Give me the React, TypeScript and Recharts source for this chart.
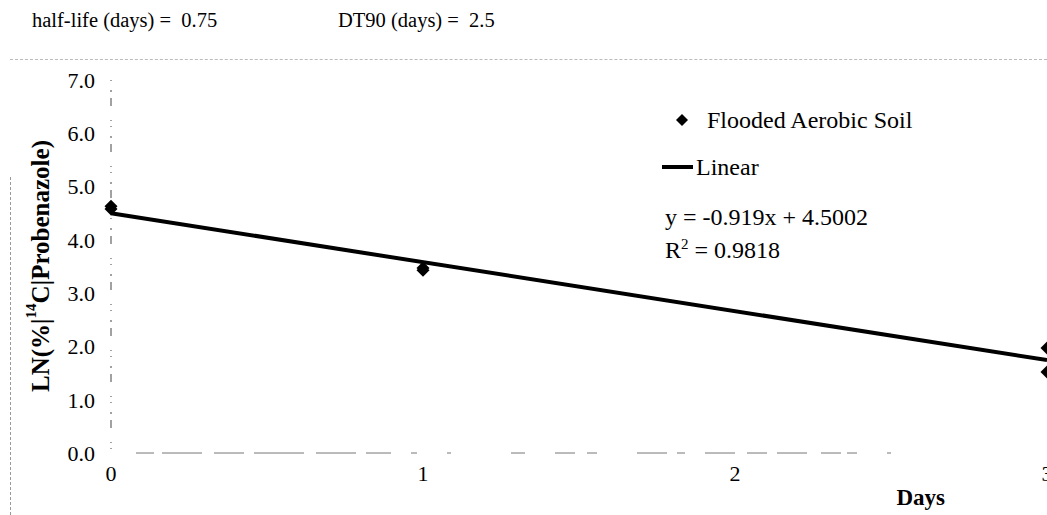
import { ComposedChart, Scatter, XAxis, YAxis, Legend } from "recharts";

// values
const days = [0, 0, 1, 1, 3, 3];
const lnValues = [4.63, 4.58, 3.47, 3.43, 1.97, 1.52];
const trendDays = [0, 3];
const trendValues = [4.5002, 1.7432];
const xTicks = [0, 1, 2, 3];
const yTicks = [0, 1, 2, 3, 4, 5, 6, 7];
const seriesName = "Flooded Aerobic Soil";
const trendName = "Linear";
const equation = "y = -0.919x + 4.5002";
const rSquared = "0.9818";
const halfLife = "0.75";
const dt90 = "2.5";

const points = days.map((d, i) => ({ x: d, y: lnValues[i] }));
const trend = trendDays.map((d, i) => ({ x: d, y: trendValues[i] }));

const FONT = "'Liberation Serif', Tinos, 'Times New Roman', Times, serif";

function Diamond(props: any) {
  const { cx, cy } = props;
  if (cx == null || cy == null) return null;
  const r = 6.5;
  return (
    <polygon
      points={`${cx},${cy - r} ${cx + r},${cy} ${cx},${cy + r} ${cx - r},${cy}`}
      fill="#000"
    />
  );
}

function LegendBox() {
  return (
    <div style={{ fontFamily: FONT, fontSize: 24, color: "#000", lineHeight: 1 }}>
      <div style={{ display: "flex", alignItems: "center", height: 40 }}>
        <svg width={30} height={20} style={{ marginLeft: 12 }}>
          <polygon points="8,4 14,10 8,16 2,10" fill="#000" />
        </svg>
        <span style={{ marginLeft: 3 }}>{seriesName}</span>
      </div>
      <div style={{ display: "flex", alignItems: "center", height: 40, marginTop: 7 }}>
        <div style={{ width: 31, height: 4, background: "#000" }} />
        <span style={{ marginLeft: 3 }}>{trendName}</span>
      </div>
      <div style={{ marginTop: 14, marginLeft: 3, lineHeight: "33px" }}>
        <div>{equation}</div>
        <div>
          R
          <span style={{ fontSize: 15, position: "relative", top: -9 }}>2</span>
          {` = ${rSquared}`}
        </div>
      </div>
    </div>
  );
}

function YLabel() {
  return (
    <text
      transform="translate(40, 266) rotate(-90)"
      textAnchor="middle"
      dominantBaseline="central"
      fontFamily={FONT}
      fontWeight="bold"
      fontSize={25}
      fill="#000"
    >
      LN(%|<tspan fontSize={15} dy={-9}>14</tspan>
      <tspan dy={9}>C|Probenazole)</tspan>
    </text>
  );
}

export default function App() {
  return (
    <div
      style={{
        position: "absolute",
        left: 0,
        top: 0,
        width: 1047,
        height: 515,
        background: "#fff",
        overflow: "hidden",
      }}
    >
      <div
        style={{
          position: "absolute",
          top: 9,
          left: 32,
          fontFamily: FONT,
          fontSize: 20.5,
          whiteSpace: "pre",
        }}
      >
        {`half-life (days) =  ${halfLife}`}
      </div>
      <div
        style={{
          position: "absolute",
          top: 9,
          left: 338,
          fontFamily: FONT,
          fontSize: 20.5,
          whiteSpace: "pre",
        }}
      >
        {`DT90 (days) =  ${dt90}`}
      </div>
      {/* faint scanned frame edges */}
      <div
        style={{
          position: "absolute",
          top: 59,
          left: 10,
          width: 1037,
          borderTop: "1px dashed #bbb",
        }}
      />
      <div
        style={{
          position: "absolute",
          top: 177,
          left: 10,
          height: 338,
          borderLeft: "1px dashed #999",
        }}
      />
      <ComposedChart
        width={1047}
        height={515}
        margin={{ top: 80, right: 0, bottom: 0, left: 0 }}
        style={{ position: "absolute", left: 0, top: 0 }}
      >
        <XAxis
          type="number"
          dataKey="x"
          domain={[0, 3]}
          ticks={xTicks}
          interval={0}
          height={62}
          tickSize={0}
          tickMargin={12}
          tickFormatter={(v) => String(v)}
          tick={{ fontFamily: FONT, fontSize: 22, fill: "#000" }}
          axisLine={{
            stroke: "#777",
            strokeWidth: 1,
            strokeDasharray:
              "0 25 18 8 40 12 30 10 50 12 40 10 25 20 6 30 4 60 14 30 20 12 10 40 30 10 8 20 30 12 20 10 30 14 20 6 10 30 4 400",
          }}
          label={{
            value: "Days",
            position: "insideBottomRight",
            offset: 0,
            dx: -102,
            dy: -10,
            style: { fontFamily: FONT, fontSize: 23, fontWeight: "bold", fill: "#000" },
          }}
        />
        <YAxis
          type="number"
          dataKey="y"
          domain={[0, 7]}
          ticks={yTicks}
          interval={0}
          width={111}
          tickSize={0}
          tickMargin={16}
          tickFormatter={(v: number) => v.toFixed(1)}
          tick={{ fontFamily: FONT, fontSize: 22, fill: "#000" }}
          axisLine={{ stroke: "#444", strokeWidth: 1, strokeDasharray: "1 9 2 6 8 14 1 5" }}
          label={{ content: () => <YLabel /> }}
        />
        <Legend
          layout="vertical"
          align="center"
          verticalAlign="middle"
          content={() => <LegendBox />}
          wrapperStyle={{ position: "absolute", left: 662, top: 100, width: 320 }}
        />
        <Scatter
          name={trendName}
          data={trend}
          line={{ stroke: "#000", strokeWidth: 4 }}
          shape={() => null}
          legendType="none"
          isAnimationActive={false}
        />
        <Scatter
          name={seriesName}
          data={points}
          shape={Diamond}
          isAnimationActive={false}
        />
      </ComposedChart>
    </div>
  );
}
